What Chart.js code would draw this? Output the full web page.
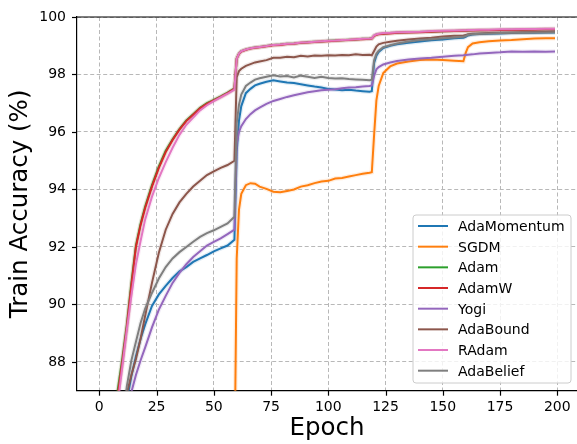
<!DOCTYPE html>
<html><head><meta charset="utf-8">
<script src="https://cdn.jsdelivr.net/npm/chart.js@4/dist/chart.umd.min.js"></script>
<style>html,body{margin:0;padding:0;background:#fff;overflow:hidden}#wrap{width:577px;height:444px;position:relative}</style>
</head><body><div id="wrap"><canvas id="c" width="577" height="444"></canvas></div>
<script>
const epochs = [0,2,4,6,8,10,12,14,16,18,20,23,26,29,32,35,38,41,44,47,50,53,56,59,60,61,62,64,66,68,70,73,76,79,82,85,88,91,94,97,100,103,106,109,112,115,118,119,120,121,122,124,127,130,135,140,145,150,155,159,160,161,163,166,170,175,180,185,190,195,199];

const adaMomentum = [38,62,73,79,82.8,85.2,86.65,87.5,88.2,88.8,89.3,89.95,90.35,90.65,90.92,91.15,91.3,91.48,91.6,91.72,91.85,91.95,92.05,92.25,
 95.3,96.4,96.9,97.35,97.5,97.62,97.68,97.75,97.8,97.76,97.72,97.7,97.66,97.62,97.58,97.55,97.5,97.48,97.45,97.47,97.44,97.42,97.4,97.42,
 98.4,98.65,98.78,98.92,99.0,99.05,99.1,99.15,99.19,99.22,99.26,99.28,99.31,99.36,99.39,99.41,99.42,99.43,99.44,99.45,99.45,99.46,99.46];
const sgdm = [35,55,65,70,73,75,76.5,77.5,78.5,79,79.5,80,80.5,81,81.3,81.6,82,82.2,82.5,82.7,83,83.2,83.5,84,
 91.6,93.3,93.85,94.15,94.22,94.2,94.1,94.02,93.92,93.9,93.95,94.0,94.1,94.15,94.22,94.28,94.3,94.38,94.4,94.45,94.5,94.55,94.58,94.6,
 95.9,97.1,97.6,98.05,98.28,98.38,98.45,98.5,98.52,98.5,98.48,98.46,98.75,98.95,99.08,99.12,99.16,99.18,99.2,99.23,99.25,99.26,99.26];
const adam = [56,77,82.5,85.3,87.0,88.1,89.3,90.75,92.05,92.8,93.4,94.15,94.8,95.35,95.75,96.1,96.4,96.62,96.84,97.0,97.12,97.24,97.37,97.52,
 98.56,98.73,98.81,98.87,98.91,98.94,98.96,98.99,99.03,99.04,99.07,99.08,99.1,99.12,99.14,99.15,99.17,99.18,99.19,99.21,99.22,99.24,99.25,99.26,
 99.35,99.39,99.41,99.42,99.44,99.45,99.47,99.48,99.49,99.5,99.51,99.52,99.52,99.53,99.54,99.54,99.55,99.55,99.56,99.56,99.57,99.57,99.58];
const adamW = [55,76,82,85,86.8,87.95,89.2,90.65,92.0,92.75,93.35,94.1,94.75,95.3,95.72,96.08,96.38,96.6,96.82,96.98,97.1,97.22,97.35,97.5,
 98.55,98.72,98.8,98.86,98.9,98.93,98.95,98.98,99.02,99.03,99.06,99.07,99.1,99.11,99.13,99.15,99.16,99.17,99.19,99.2,99.22,99.23,99.24,99.25,
 99.34,99.38,99.4,99.42,99.43,99.45,99.46,99.47,99.49,99.5,99.51,99.52,99.52,99.53,99.53,99.54,99.54,99.55,99.55,99.56,99.56,99.57,99.57];
const yogi = [30,55,68,76,80.8,84,85.9,86.95,87.55,88.05,88.5,89.2,89.82,90.3,90.75,91.1,91.4,91.65,91.85,92.05,92.18,92.3,92.45,92.6,
 95.6,96.0,96.2,96.45,96.62,96.75,96.85,96.98,97.08,97.15,97.22,97.28,97.33,97.38,97.42,97.45,97.47,97.49,97.52,97.55,97.56,97.58,97.6,97.62,
 97.95,98.18,98.26,98.35,98.42,98.47,98.52,98.56,98.58,98.62,98.65,98.67,98.68,98.69,98.7,98.73,98.75,98.77,98.8,98.79,98.8,98.79,98.8];
const adaBound = [45,68,77,81.5,84.3,85.9,86.9,87.55,88.1,88.8,89.6,90.75,91.8,92.6,93.15,93.55,93.85,94.1,94.3,94.5,94.63,94.75,94.85,95.0,
 97.9,98.12,98.2,98.3,98.36,98.42,98.45,98.5,98.58,98.58,98.62,98.6,98.65,98.63,98.66,98.65,98.67,98.66,98.68,98.67,98.7,98.68,98.69,98.67,
 98.82,98.97,99.05,99.1,99.14,99.17,99.22,99.25,99.28,99.32,99.35,99.36,99.37,99.4,99.42,99.43,99.44,99.45,99.46,99.47,99.48,99.49,99.5];
const rAdam = [50,72,80,84,86.5,87.8,89.1,90.3,91.4,92.2,92.95,93.75,94.4,94.95,95.45,95.9,96.25,96.5,96.75,96.93,97.07,97.2,97.33,97.47,
 98.55,98.73,98.81,98.87,98.91,98.94,98.96,98.99,99.03,99.04,99.07,99.08,99.11,99.12,99.14,99.16,99.17,99.18,99.2,99.21,99.23,99.24,99.25,99.26,
 99.36,99.4,99.42,99.44,99.45,99.47,99.48,99.49,99.51,99.52,99.53,99.54,99.54,99.55,99.55,99.56,99.56,99.57,99.57,99.58,99.58,99.59,99.59];
const adaBelief = [40,65,75,80.5,83.8,85.8,87.15,88.05,88.7,89.35,89.85,90.4,90.9,91.3,91.6,91.82,92.0,92.18,92.35,92.48,92.58,92.7,92.82,93.05,
 96.3,96.95,97.3,97.6,97.72,97.82,97.87,97.92,97.97,97.93,97.95,97.9,97.96,97.92,97.88,97.92,97.88,97.86,97.87,97.84,97.83,97.82,97.8,97.82,
 98.5,98.72,98.83,98.95,99.02,99.08,99.15,99.2,99.23,99.26,99.29,99.31,99.34,99.38,99.4,99.42,99.43,99.44,99.45,99.45,99.46,99.46,99.47];

const seriesNames = ['AdaMomentum','SGDM','Adam','AdamW','Yogi','AdaBound','RAdam','AdaBelief'];
const seriesValues = [adaMomentum, sgdm, adam, adamW, yogi, adaBound, rAdam, adaBelief];
const seriesColors = ['#1f77b4','#ff7f0e','#2ca02c','#d62728','#9467bd','#8c564b','#e377c2','#7f7f7f'];
const xTicks = [0,25,50,75,100,125,150,175,200];
const yTicks = [88,90,92,94,96,98,100];

const FONT = "'DejaVu Sans', sans-serif";

function hexA(hex, a){
  const n = parseInt(hex.slice(1),16);
  return `rgba(${(n>>16)&255},${(n>>8)&255},${n&255},${a})`;
}

const datasets = [];
seriesNames.forEach((name, i) => {
  const pts = epochs.map((e, j) => ({x: e, y: seriesValues[i][j]}));
  datasets.push({label: name, data: pts, borderColor: seriesColors[i], borderWidth: 2,
    pointRadius: 0, tension: 0, clip: 0, order: (7 - i) * 2, isMain: true});
  datasets.push({label: name + ' band', data: pts, borderColor: hexA(seriesColors[i], 0.13), borderWidth: 4.5,
    pointRadius: 0, tension: 0, clip: 0, order: (7 - i) * 2 + 1, isMain: false});
});

const framePlugin = {
  id: 'frame',
  afterDatasetsDraw(chart) {
    const {ctx, chartArea: a} = chart;
    ctx.save();
    ctx.strokeStyle = '#000';
    ctx.lineWidth = 1.2;
    ctx.setLineDash([]);
    ctx.beginPath();
    ctx.moveTo(a.left, a.top);
    ctx.lineTo(a.right, a.top);
    ctx.stroke();
    // tick marks (solid, outside the axes)
    const xs = chart.scales.x, ys = chart.scales.y;
    xTicks.forEach(v => {
      const px = Math.round(xs.getPixelForValue(v)) + 0.5;
      ctx.beginPath(); ctx.moveTo(px, a.bottom); ctx.lineTo(px, a.bottom + 5); ctx.stroke();
    });
    yTicks.forEach(v => {
      const py = Math.round(ys.getPixelForValue(v)) + 0.5;
      ctx.beginPath(); ctx.moveTo(a.left - 5, py); ctx.lineTo(a.left, py); ctx.stroke();
    });
    ctx.restore();
  },
  afterDraw(chart) {
    const ctx = chart.ctx;
    const bx = 413, by = 215, bw = 158, bh = 168, r = 3;
    ctx.save();
    ctx.beginPath();
    ctx.moveTo(bx + r, by);
    ctx.arcTo(bx + bw, by, bx + bw, by + bh, r);
    ctx.arcTo(bx + bw, by + bh, bx, by + bh, r);
    ctx.arcTo(bx, by + bh, bx, by, r);
    ctx.arcTo(bx, by, bx + bw, by, r);
    ctx.closePath();
    ctx.fillStyle = 'rgba(255,255,255,0.8)';
    ctx.fill();
    ctx.strokeStyle = '#cccccc';
    ctx.lineWidth = 1;
    ctx.stroke();
    ctx.font = `14px ${FONT}`;
    ctx.textAlign = 'left';
    ctx.textBaseline = 'alphabetic';
    const mains = chart.data.datasets.filter(d => d.isMain);
    mains.forEach((d, i) => {
      const cy = 226 + i * 20.67;
      ctx.strokeStyle = d.borderColor;
      ctx.lineWidth = 2;
      ctx.beginPath();
      ctx.moveTo(418, cy);
      ctx.lineTo(448, cy);
      ctx.stroke();
      ctx.fillStyle = '#000';
      ctx.fillText(d.label, 458, cy + 5.1);
    });
    ctx.restore();
  }
};

new Chart(document.getElementById('c'), {
  type: 'line',
  data: {datasets},
  options: {
    responsive: false,
    animation: false,
    devicePixelRatio: 1,
    layout: {padding: {top: 17, left: 0, right: 0, bottom: 0}},
    plugins: {legend: {display: false}, tooltip: {enabled: false}},
    scales: {
      x: {
        type: 'linear', min: -9.74, max: 208.6,
        afterBuildTicks: ax => { ax.ticks = xTicks.map(v => ({value: v})); },
        afterFit: s => { s.height = 53.3; },
        ticks: {color: '#000', font: {family: FONT, size: 14}, padding: 3, maxRotation: 0, autoSkip: false},
        grid: {color: '#b8b8b8', lineWidth: 1, tickColor: 'rgba(0,0,0,0)', tickLength: 5},
        border: {color: '#000', width: 1.2, dash: [4, 2.5]},
        title: {display: true, text: 'Epoch', color: '#000', font: {family: FONT, size: 24.5}, padding: {top: 0, bottom: 0.5}}
      },
      y: {
        type: 'linear', min: 87, max: 100,
        afterBuildTicks: ax => { ax.ticks = yTicks.map(v => ({value: v})); },
        afterFit: s => { s.width = 77; },
        ticks: {color: '#000', font: {family: FONT, size: 14}, padding: 6},
        grid: {color: '#b8b8b8', lineWidth: 1, tickColor: 'rgba(0,0,0,0)', tickLength: 5},
        border: {color: '#000', width: 1.2, dash: [4, 2.5]},
        title: {display: true, text: 'Train Accuracy (%)', color: '#000', font: {family: FONT, size: 24.5}, padding: {top: 6.4, bottom: 0}}
      }
    }
  },
  plugins: [framePlugin]
});
</script>
</body></html>
